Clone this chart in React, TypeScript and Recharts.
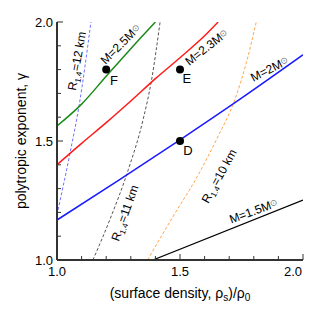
import React from 'react';
import { ComposedChart, Line, Scatter, XAxis, YAxis, ReferenceDot } from 'recharts';

const FONT = '"Liberation Sans", Arial, Helvetica, sans-serif';
const AX = '#333';

// tick values
const allTicks = [1.0, 1.1, 1.2, 1.3, 1.4, 1.5, 1.6, 1.7, 1.8, 1.9, 2.0];
const majorTicks = [1.0, 1.5, 2.0];

// constant-mass curves
const massM25 = [
  { x: 1.0, y: 1.563 }, { x: 1.1, y: 1.655 }, { x: 1.2, y: 1.772 }, { x: 1.3, y: 1.888 }, { x: 1.4, y: 2.0 },
];
const massM23 = [
  { x: 1.0, y: 1.4 }, { x: 1.1, y: 1.49 }, { x: 1.2, y: 1.577 }, { x: 1.3, y: 1.668 }, { x: 1.4, y: 1.762 },
  { x: 1.5, y: 1.85 }, { x: 1.6, y: 1.942 }, { x: 1.655, y: 2.0 },
];
const massM20 = [
  { x: 1.0, y: 1.168 }, { x: 1.25, y: 1.335 }, { x: 1.5, y: 1.505 }, { x: 1.75, y: 1.68 }, { x: 2.0, y: 1.862 },
];
const massM15 = [
  { x: 1.39, y: 1.0 }, { x: 2.0, y: 1.252 },
];

// constant-radius curves
const radius12 = [
  { x: 1.0, y: 1.19 }, { x: 1.053, y: 1.45 }, { x: 1.09, y: 1.65 }, { x: 1.138, y: 2.0 },
];
const radius11 = [
  { x: 1.146, y: 1.0 }, { x: 1.215, y: 1.17 }, { x: 1.29, y: 1.38 }, { x: 1.35, y: 1.59 }, { x: 1.385, y: 1.76 }, { x: 1.419, y: 2.0 },
];
const radius10 = [
  { x: 1.368, y: 1.0 }, { x: 1.47, y: 1.18 }, { x: 1.57, y: 1.35 }, { x: 1.65, y: 1.51 }, { x: 1.725, y: 1.68 },
  { x: 1.77, y: 1.83 }, { x: 1.81, y: 2.0 },
];

// marked models
const models = [
  { x: 1.2, y: 1.8, name: 'F' },
  { x: 1.5, y: 1.8, name: 'E' },
  { x: 1.5, y: 1.5, name: 'D' },
];
const modelLabels = [
  { x: 1.232, y: 1.756, name: 'F' },
  { x: 1.528, y: 1.765, name: 'E' },
  { x: 1.532, y: 1.462, name: 'D' },
];

// curve annotations
const massLabels = [
  { x: 1.26, y: 1.908, angle: -45, text: 'M=2.5M' },
  { x: 1.61, y: 1.895, angle: -38, text: 'M=2.3M' },
  { x: 1.866, y: 1.803, angle: -27, text: 'M=2M' },
  { x: 1.801, y: 1.206, angle: -20, text: 'M=1.5M' },
];
const radiusLabels = [
  { x: 1.081, y: 1.836, angle: -80, text: '=12 km' },
  { x: 1.276, y: 1.197, angle: -70, text: '=11 km' },
  { x: 1.659, y: 1.353, angle: -61, text: '=10 km' },
];

const isMajor = (v: number) => majorTicks.some((m) => Math.abs(m - v) < 1e-6);

function BottomTick(props: any) {
  const { x, y, payload } = props;
  const v = payload.value;
  const mj = isMajor(v);
  const last = Math.abs(v - 2) < 1e-6;
  return (
    <g>
      <line x1={x} x2={x} y1={y} y2={y - (mj ? 6 : 4)} stroke={AX} strokeWidth={1} />
      {mj && (
        <text
          x={last ? x - 1 : x}
          y={y + 16}
          textAnchor={last ? 'end' : 'middle'}
          fontSize={13}
          fontFamily={FONT}
          fill="#000"
        >
          {v.toFixed(1)}
        </text>
      )}
    </g>
  );
}
function TopTick(props: any) {
  const { x, y, payload } = props;
  const mj = isMajor(payload.value);
  return <line x1={x} x2={x} y1={y} y2={y + (mj ? 6 : 4)} stroke={AX} strokeWidth={1} />;
}
function LeftTick(props: any) {
  const { x, y, payload } = props;
  const v = payload.value;
  const mj = isMajor(v);
  return (
    <g>
      <line x1={x} x2={x + (mj ? 6 : 4)} y1={y} y2={y} stroke={AX} strokeWidth={1} />
      {mj && (
        <text x={x - 4} y={y + 5} textAnchor="end" fontSize={13} fontFamily={FONT} fill="#000">
          {v.toFixed(1)}
        </text>
      )}
    </g>
  );
}
function RightTick(props: any) {
  const { x, y, payload } = props;
  const mj = isMajor(payload.value);
  return <line x1={x} x2={x - (mj ? 6 : 4)} y1={y} y2={y} stroke={AX} strokeWidth={1} />;
}

function XTitle(props: any) {
  const vb = props.viewBox || {};
  const cx = vb.x + vb.width / 2;
  const cy = vb.y + 38;
  return (
    <text x={cx} y={cy} textAnchor="middle" fontSize={14} fontFamily={FONT} fill="#000">
      (surface density, ρ<tspan fontSize={10} dy={3}>s</tspan>
      <tspan dy={-3}>)/ρ</tspan>
      <tspan fontSize={10} dy={3}>0</tspan>
    </text>
  );
}
function YTitle(props: any) {
  const vb = props.viewBox || {};
  const cx = vb.x + 18;
  const cy = vb.y + vb.height / 2;
  return (
    <text
      transform={`translate(${cx},${cy}) rotate(-90)`}
      textAnchor="middle"
      fontSize={14}
      fontFamily={FONT}
      fill="#000"
    >
      polytropic exponent, γ
    </text>
  );
}

export default function App() {
  return (
    <ComposedChart width={306} height={298} margin={{ top: 14, right: 11, left: 0, bottom: 0 }}>
      <XAxis
        dataKey="x"
        type="number"
        domain={[1, 2]}
        ticks={allTicks}
        interval={0}
        allowDataOverflow
        height={46}
        tickSize={0}
        tickMargin={0}
        tickLine={false}
        tick={<BottomTick />}
        axisLine={{ stroke: AX, strokeWidth: 2 }}
        label={<XTitle />}
      />
      <XAxis
        xAxisId="top"
        orientation="top"
        dataKey="x"
        type="number"
        domain={[1, 2]}
        ticks={allTicks}
        interval={0}
        allowDataOverflow
        height={0}
        tickSize={0}
        tickMargin={0}
        tickLine={false}
        tick={<TopTick />}
        axisLine={{ stroke: AX, strokeWidth: 2 }}
      />
      <YAxis
        dataKey="y"
        type="number"
        domain={[1, 2]}
        ticks={allTicks}
        interval={0}
        allowDataOverflow
        width={49}
        tickSize={0}
        tickMargin={0}
        tickLine={false}
        tick={<LeftTick />}
        axisLine={{ stroke: AX, strokeWidth: 2 }}
        label={<YTitle />}
      />
      <YAxis
        yAxisId="right"
        orientation="right"
        dataKey="y"
        type="number"
        domain={[1, 2]}
        ticks={allTicks}
        interval={0}
        allowDataOverflow
        width={0}
        tickSize={0}
        tickMargin={0}
        tickLine={false}
        tick={<RightTick />}
        axisLine={{ stroke: AX, strokeWidth: 2 }}
      />

      <Line data={radius12} dataKey="y" type="monotone" stroke="#7070ff" strokeWidth={1} strokeDasharray="3 2" dot={false} isAnimationActive={false} />
      <Line data={radius11} dataKey="y" type="monotone" stroke="#555" strokeWidth={1} strokeDasharray="3 2" dot={false} isAnimationActive={false} />
      <Line data={radius10} dataKey="y" type="monotone" stroke="#ffa64d" strokeWidth={1} strokeDasharray="3 2" dot={false} isAnimationActive={false} />
      <Line data={massM25} dataKey="y" type="monotone" stroke="#1a8a1a" strokeWidth={1.5} dot={false} isAnimationActive={false} />
      <Line data={massM23} dataKey="y" type="monotone" stroke="#ff1a1a" strokeWidth={1.5} dot={false} isAnimationActive={false} />
      <Line data={massM20} dataKey="y" type="monotone" stroke="#1a1aff" strokeWidth={1.5} dot={false} isAnimationActive={false} />
      <Line data={massM15} dataKey="y" type="linear" stroke="#000" strokeWidth={1.2} dot={false} isAnimationActive={false} />

      <Scatter
        data={models}
        dataKey="y"
        fill="#000"
        isAnimationActive={false}
        shape={(p: any) => <circle cx={p.cx} cy={p.cy} r={4} fill="#000" />}
      />

      {modelLabels.map((m) => (
        <ReferenceDot
          key={m.name}
          x={m.x}
          y={m.y}
          r={0}
          ifOverflow="visible"
          shape={(p: any) => (
            <text x={p.cx} y={p.cy + 5} textAnchor="middle" fontSize={13} fontFamily={FONT} fill="#000">
              {m.name}
            </text>
          )}
        />
      ))}
      {massLabels.map((m) => (
        <ReferenceDot
          key={m.text}
          x={m.x}
          y={m.y}
          r={0}
          ifOverflow="visible"
          shape={(p: any) => (
            <text
              transform={`translate(${p.cx},${p.cy}) rotate(${m.angle})`}
              y={4}
              textAnchor="middle"
              fontSize={12}
              fontFamily={FONT}
              fill="#000"
            >
              {m.text}
              <tspan fontSize={9} dy={-2} fill="#777">⊙</tspan>
            </text>
          )}
        />
      ))}
      {radiusLabels.map((m) => (
        <ReferenceDot
          key={m.text}
          x={m.x}
          y={m.y}
          r={0}
          ifOverflow="visible"
          shape={(p: any) => (
            <text
              transform={`translate(${p.cx},${p.cy}) rotate(${m.angle})`}
              y={4}
              textAnchor="middle"
              fontSize={12}
              fontFamily={FONT}
              fill="#000"
            >
              R<tspan fontSize={8} dy={3}>1.4</tspan>
              <tspan dy={-3}>{m.text}</tspan>
            </text>
          )}
        />
      ))}
    </ComposedChart>
  );
}
